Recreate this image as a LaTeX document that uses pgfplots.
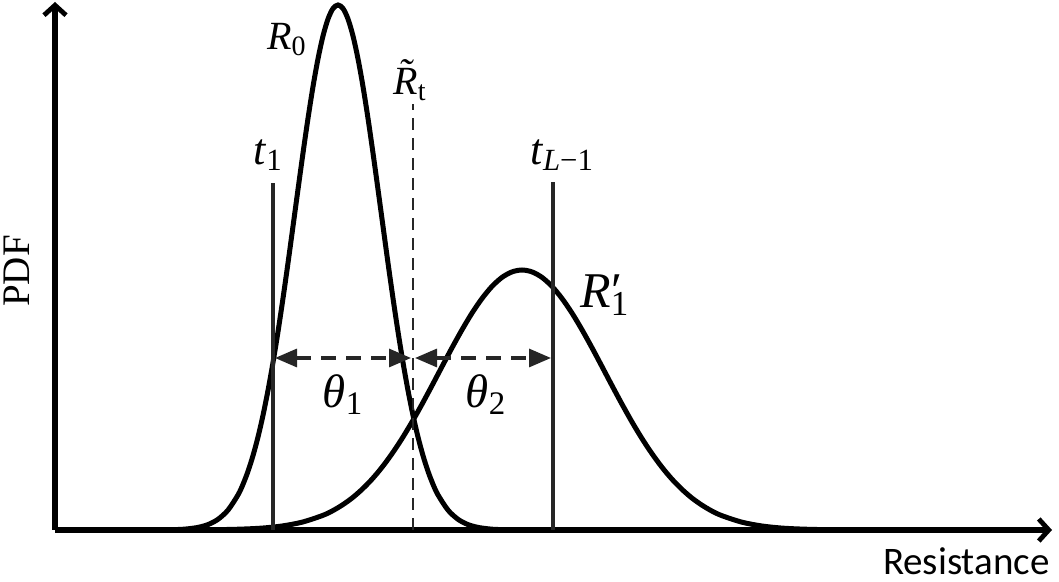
\RequirePackage{fix-cm}
\documentclass[border=0pt]{standalone}
\usepackage{pgfplots}
\pgfplotsset{compat=1.18}
\usetikzlibrary{arrows.meta}
\usepackage{fontspec}
\setmainfont{Liberation Serif}
\newfontfamily\labelfont{Carlito}
\definecolor{dgray}{HTML}{262626}

\begin{document}
\begin{tikzpicture}
\useasboundingbox (-27.5pt,-26pt) rectangle (502pt,265pt);
\begin{axis}[
  anchor=origin, at={(0,0)},
  scale only axis,
  width=498.5pt, height=264pt,
  xmin=55, xmax=1052, ymin=0, ymax=528,
  axis lines=left,
  axis line style={line width=2.8pt, -{Straight Barb[length=5pt,width=11pt,line width=2.4pt]}},
  xtick=\empty, ytick=\empty,
  clip=false,
]
% R0
\addplot[black, line width=2.5pt, smooth] coordinates {
  (150,0) (178,0.5) (188,1.2) (198,2.6) (208,5.4) (218,10.7) (228,19.9) (238,35.1)
  (243,45.7) (248,58.7) (253,74.4) (258,93.0) (263,114.7) (268,139.6) (273,167.5)
  (278,198.3) (283,231.7) (288,267.0) (293,303.7) (298,340.6) (303,376.9) (308,411.6)
  (313,443.4) (318,471.2) (323,494.0) (328,511.0) (333,521.5) (338,525)
  (343,521.5) (348,511.0) (353,494.0) (358,471.2) (363,443.4) (368,411.6) (373,376.9)
  (378,340.6) (383,303.7) (388,267.0) (393,231.7) (398,198.3) (403,167.5) (408,139.6)
  (413,114.7) (418,93.0) (423,74.4) (428,58.7) (433,45.7) (438,35.1) (448,19.9)
  (458,10.7) (468,5.4) (478,2.6) (488,1.2) (498,0.5) (530,0)
};
% R1'
\addplot[black, line width=2.5pt, smooth] coordinates {
  (200,0) (222,0.4) (242,0.9) (262,1.9) (282,4.0) (302,7.8) (322,14.3) (332,18.9)
  (342,24.8) (352,31.9) (362,40.6) (372,50.8) (382,62.7) (392,76.3) (402,91.4)
  (412,108.0) (422,125.8) (432,144.4) (442,163.4) (452,182.2) (462,200.2) (472,216.9)
  (482,231.5) (492,243.6) (502,252.6) (512,258.1) (522,260)
  (532,258.1) (542,252.6) (552,243.6) (562,231.5) (572,216.9) (582,200.2) (592,182.2)
  (602,163.4) (612,144.4) (622,125.8) (632,108.0) (642,91.4) (652,76.3) (662,62.7)
  (672,50.8) (682,40.6) (692,31.9) (702,24.8) (712,18.9) (722,14.3) (742,7.8)
  (762,4.0) (782,1.9) (802,0.9) (822,0.4) (850,0)
};
% thresholds
\addplot[dgray, line width=2pt] coordinates {(273,0) (273,347)};
\addplot[dgray, line width=2pt] coordinates {(553,0) (553,348)};
\addplot[dgray, line width=1pt, dash pattern=on 6pt off 4pt] coordinates {(413,0) (413,426)};
% theta arrows
\addplot[dgray, line width=1.6pt, dash pattern=on 7.5pt off 5pt,
  {Triangle[length=11pt,width=9pt]}-{Triangle[length=11pt,width=9pt]}]
  coordinates {(275,172) (411,172)};
\addplot[dgray, line width=1.6pt, dash pattern=on 7.5pt off 5pt,
  {Triangle[length=11pt,width=9pt]}-{Triangle[length=11pt,width=9pt]}]
  coordinates {(415,172) (551,172)};
% labels
\node[font=\fontsize{20}{23}\selectfont] at (axis cs:287,490) {\textit{R}\textsubscript{0}};
\node[font=\fontsize{20}{23}\selectfont] at (axis cs:410,450)
  {\textit{R}\llap{\raisebox{0.2em}{\textit{˜}}\kern0.1em}\textsubscript{t}};
\node[font=\fontsize{22}{25}\selectfont] at (axis cs:268,375) {\textit{t}\textsubscript{1}};
\node[font=\fontsize{22}{25}\selectfont] at (axis cs:562,375) {\textit{t}\textsubscript{\textit{L}−1}};
\node[font=\fontsize{25}{28}\selectfont] at (axis cs:605,235) {\textit{R}′\kern-0.22em\textsubscript{1}};
\node[font=\fontsize{23.5}{26}\selectfont] at (axis cs:343,135) {\textit{θ}\textsubscript{1}};
\node[font=\fontsize{23.5}{26}\selectfont] at (axis cs:486,135) {\textit{θ}\textsubscript{2}};
\end{axis}
\node[rotate=90, font=\fontsize{19.5}{22}\selectfont] at (-19pt,129.5pt) {PDF};
\node[anchor=south east, font=\labelfont\fontsize{19.5}{22}\selectfont, inner sep=0pt] at (497.5pt,-22.5pt) {Resistance};
\end{tikzpicture}
\end{document}
